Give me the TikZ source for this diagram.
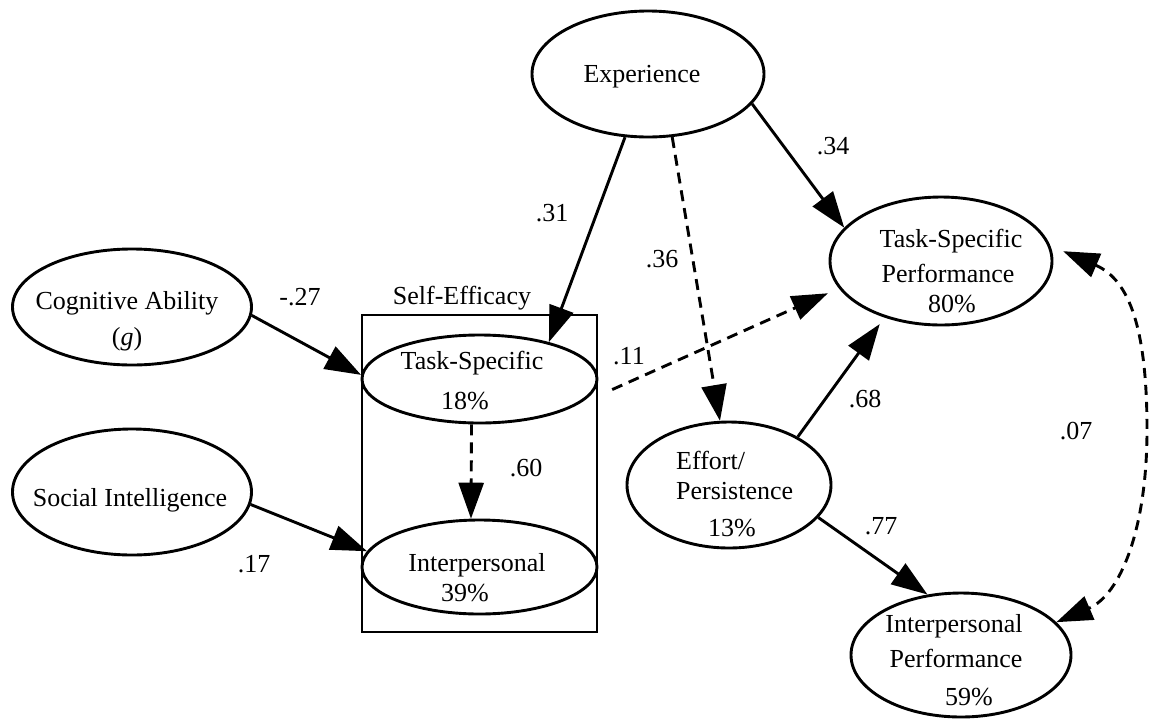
\documentclass[tikz,border=0pt]{standalone}
\usepackage{fontspec}
\setmainfont{Liberation Serif}
\usetikzlibrary{shapes.geometric,arrows.meta}

\tikzset{
  latent/.style={draw, ellipse, line width=2.9pt, inner sep=0pt},
  txt/.style={anchor=base, inner sep=0pt, font=\fontsize{26pt}{31pt}\selectfont},
  txtl/.style={txt, anchor=base west},
  effect/.style={line width=2.9pt, -{Triangle[length=36pt,width=25pt]}},
  dashedeffect/.style={effect, dash pattern=on 11pt off 7pt},
  corr/.style={line width=2.9pt, dash pattern=on 10pt off 7pt,
    {Triangle[length=36pt,width=25pt]}-{Triangle[length=36pt,width=25pt]}},
}

\begin{document}
\begin{tikzpicture}[x=1pt, y=-1pt]
\useasboundingbox (0,0) rectangle (1151,721);

% latent variables
\node[latent, minimum width=232pt, minimum height=126pt] (exp)  at (648,74)   {};
\node[latent, minimum width=222pt, minimum height=128pt] (tsp)  at (941,261)  {};
\node[latent, minimum width=239pt, minimum height=116pt] (cog)  at (132,307)  {};
\node[latent, minimum width=239pt, minimum height=126pt] (soc)  at (132,492)  {};
\node[latent, minimum width=204pt, minimum height=126pt] (eff)  at (729,485)  {};
\node[latent, minimum width=220pt, minimum height=124pt] (ipp)  at (961,655)  {};

% self-efficacy block
\node[draw, rectangle, line width=2.9pt, minimum width=235pt, minimum height=317pt, inner sep=0pt] (sebox) at (479.5,473.5) {};
\node[txt] (setitle) at (462,304) {Self-Efficacy};
\node[latent, minimum width=235pt, minimum height=88pt] (ts) at (479.5,379) {};
\node[latent, minimum width=235pt, minimum height=94pt] (ip) at (479.5,567) {};

% texts inside the ellipses
\node[txt] (exp-a) at (642,82) {Experience};
\node[txt] (tsp-a) at (951,247) {Task-Specific};
\node[txt] (tsp-b) at (948,282) {Performance};
\node[txt] (tsp-c) at (952,312) {80\%};
\node[txt] (cog-a) at (127,309) {Cognitive Ability};
\node[txt] (cog-b) at (127,345) {(\textit{g})};
\node[txt] (soc-a) at (130,506) {Social Intelligence};
\node[txt] (ts-a) at (472,369) {Task-Specific};
\node[txt] (ts-b) at (465,409) {18\%};
\node[txt] (ip-a) at (477,571) {Interpersonal};
\node[txt] (ip-b) at (465,601) {39\%};
\node[txtl] (eff-a) at (676,469) {Effort/};
\node[txtl] (eff-b) at (676,499) {Persistence};
\node[txt] (eff-c) at (732,536) {13\%};
\node[txt] (ipp-a) at (954,632) {Interpersonal};
\node[txt] (ipp-b) at (956,667) {Performance};
\node[txt] (ipp-c) at (969,705) {59\%};

% paths
\draw[effect] (exp.250) -- (ts.28);
\draw[dashedeffect] (exp.-69) -- (eff.98);
\draw[effect] (exp.-16) -- (tsp.161);
\draw[dashedeffect, shorten <=51pt, shorten >=12pt] (ts.-20) -- (tsp.195);
\draw[effect, shorten >=8pt] (eff.35) -- (tsp.-135);
\draw[effect] (eff.-20) -- (ipp.119);
\draw[effect] (cog.-4) -- (ts.178);
\draw[effect] (soc.-6) -- (ip.172);
\draw[dashedeffect] (ts.260) -- (ip.100);

% residual correlation of the two performance factors
\coordinate (bend) at (1147,430);
\draw[corr, shorten <=14pt] (tsp.8) .. controls (1130,280) and (1147,330) .. (bend)
  .. controls (1147,530) and (1120,595) .. (ipp.19);

% coefficients
\node[txt] (c31) at (552,221) {.31};
\node[txt] (c36) at (662,267) {.36};
\node[txt] (c34) at (833,154) {.34};
\node[txt] (c27) at (300,305) {-.27};
\node[txt] (c11) at (629,364) {.11};
\node[txt] (c60) at (526,476) {.60};
\node[txt] (c17) at (254,572) {.17};
\node[txt] (c68) at (865,407) {.68};
\node[txt] (c77) at (881,534) {.77};
\node[txt] (c07) at (1076,439) {.07};
\end{tikzpicture}
\end{document}
